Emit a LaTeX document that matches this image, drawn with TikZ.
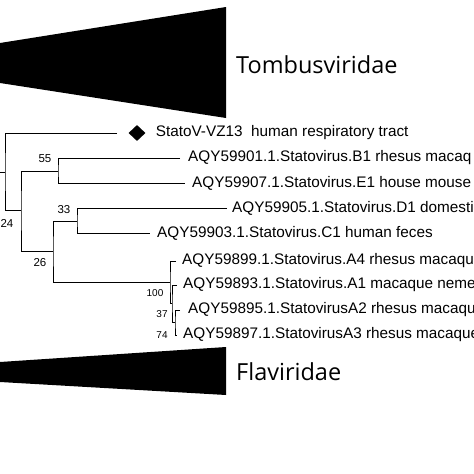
\documentclass[tikz,border=0pt]{standalone}
\usepackage{fontspec}
\setmainfont{Liberation Sans}
\newfontfamily\famfont{Open Sans}
\usetikzlibrary{positioning,shapes.geometric}

\begin{document}
\begin{tikzpicture}[x=1pt,y=-1pt]
    \useasboundingbox (0,0) rectangle (474,474);
    \clip (0,0) rectangle (474,474);
    \tikzstyle{branche}=[line width=0.9pt]
    \tikzstyle{feuille}=[inner sep=0pt,anchor=west,font=\fontsize{15.3}{15}\selectfont]
    \tikzstyle{boot}=[inner sep=0pt,font=\fontsize{11.5}{11}\selectfont]
    \tikzstyle{petit}=[inner sep=0pt,font=\fontsize{10}{10}\selectfont]
    \tikzstyle{famille}=[inner sep=0pt,anchor=west,font=\famfont\fontsize{23.5}{24}\selectfont]

    %%%%%%%%%%%%%%%%%%%%%%%%%%%%%%%%%%%%%% Familles
    \fill (0,43)--(226,7)--(226,118)--(0,83)--cycle;
    \node[famille] (tombus) at (236,65) {Tombusviridae};
    \fill (0,362)--(226,347)--(226,395)--(0,382)--cycle;
    \node[famille] (flavi) at (236,372) {Flaviridae};

    %%%%%%%%%%%%%%%%%%%%%%%%%%%%%%%%%%%%%% Noeuds
    \coordinate (r0) at (0,172);
    \coordinate (r) at (5,172);
    \coordinate (n24) at (21,210);
    \coordinate (n55) at (58,171);
    \coordinate (n26) at (53,251);
    \coordinate (n33) at (77,221);
    \coordinate (n100) at (170,282);
    \coordinate (n37) at (172,303);
    \coordinate (n74) at (175,322);

    %%%%%%%%%%%%%%%%%%%%%%%%%%%%%%%%%%%%%% Feuilles
    \coordinate (fV) at (117,133);
    \coordinate (fB1) at (180,158);
    \coordinate (fE1) at (185,183);
    \coordinate (fD1) at (227,208);
    \coordinate (fC1) at (150,233);
    \coordinate (fA4) at (176,261);
    \coordinate (fA1) at (177,285);
    \coordinate (fA2) at (180,310);
    \coordinate (fA3) at (177,335);

    \node[diamond,fill,inner sep=0pt,minimum width=17pt,minimum height=16pt] (losange) at (137,133) {};
    \node[feuille,right=10pt of losange] (tV) {StatoV-VZ13\ \ human respiratory tract};
    \node[feuille,right=8pt of fB1] (tB1) {AQY59901.1.Statovirus.B1 rhesus macaq};
    \node[feuille,right=7pt of fE1] (tE1) {AQY59907.1.Statovirus.E1 house mouse};
    \node[feuille,right=5pt of fD1] (tD1) {AQY59905.1.Statovirus.D1 domesti};
    \node[feuille,right=7pt of fC1] (tC1) {AQY59903.1.Statovirus.C1 human feces};
    \node[feuille,right=6pt of fA4] (tA4) {AQY59899.1.Statovirus.A4 rhesus macaqu};
    \node[feuille,right=6pt of fA1] (tA1) {AQY59893.1.Statovirus.A1 macaque neme};
    \node[feuille,right=8pt of fA2] (tA2) {AQY59895.1.StatovirusA2 rhesus macaqu};
    \node[feuille,right=6pt of fA3] (tA3) {AQY59897.1.StatovirusA3 rhesus macaque};

    %%%%%%%%%%%%%%%%%%%%%%%%%%%%%%%%%%%%%% Branches
    \draw[branche] (r0)--(r);
    \draw[branche] (fV) -| (r) |- (n24);
    \draw[branche] (n55) |- (n24 |- n55) -- (n24) |- (n26);
    \draw[branche] (fB1) -| (n55) |- (fE1);
    \draw[branche] (n33) -| (n26) |- (n100);
    \draw[branche] (fD1) -| (n33) |- (fC1);
    \draw[branche] (fA4) -| (n100) |- (n37);
    \draw[branche] (fA1) -| (n37) |- (n74);
    \draw[branche] (fA2) -| (n74) |- (fA3);

    %%%%%%%%%%%%%%%%%%%%%%%%%%%%%%%%%%%%%% Bootstrap
    \node[boot] (b24) at (7,223) {24};
    \node[boot] (b55) at (45,159) {55};
    \node[boot] (b26) at (40,263) {26};
    \node[boot] (b33) at (64,210) {33};
    \node[petit] (b100) at (155,293) {100};
    \node[petit] (b37) at (162,314) {37};
    \node[petit] (b74) at (162,335) {74};
\end{tikzpicture}
\end{document}
